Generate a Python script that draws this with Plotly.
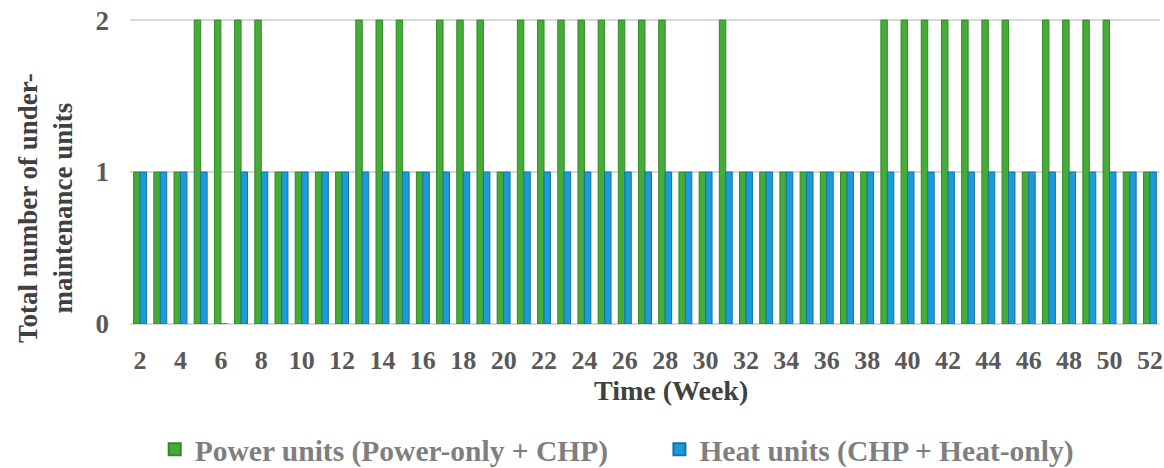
import plotly.graph_objects as go

weeks = list(range(2, 53))
power_units = [1, 1, 1, 2, 2, 2, 2, 1, 1, 1, 1, 2, 2, 2, 1, 2, 2, 2, 1, 2,
               2, 2, 2, 2, 2, 2, 2, 1, 1, 2, 1, 1, 1, 1, 1, 1, 1, 2, 2, 2,
               2, 2, 2, 2, 1, 2, 2, 2, 2, 1, 1]
heat_units = [1, 1, 1, 1, 0, 1, 1, 1, 1, 1, 1, 1, 1, 1, 1, 1, 1, 1, 1, 1,
              1, 1, 1, 1, 1, 1, 1, 1, 1, 1, 1, 1, 1, 1, 1, 1, 1, 1, 1, 1,
              1, 1, 1, 1, 1, 1, 1, 1, 1, 1, 1]
y_ticks = [0, 1, 2]

FONT = "Liberation Serif"
fig = go.Figure()
fig.add_trace(go.Bar(x=weeks, y=power_units, name="Power units (Power-only + CHP)",
                     legend="legend",
                     marker=dict(color="#45AC38", line=dict(color="#2F8A28", width=1))))
fig.add_trace(go.Bar(x=weeks, y=heat_units, name="Heat units (CHP + Heat-only)",
                     legend="legend2",
                     marker=dict(color="#1B9BD8", line=dict(color="#1474A3", width=1))))

legend_font = dict(family=FONT, size=29.5, color="#7F7F7F", weight="bold")
fig.update_layout(
    width=1164, height=468,
    margin=dict(l=130, r=4, t=14, b=144, autoexpand=False),
    paper_bgcolor="white", plot_bgcolor="white",
    barmode="group", bargap=0.36, bargroupgap=0,
    font=dict(family=FONT, size=26, color="#595959"),
    showlegend=True,
    legend=dict(orientation="h", x=0.024, xanchor="left", y=-0.405, yanchor="middle",
                font=legend_font, itemsizing="constant", bgcolor="rgba(0,0,0,0)"),
    legend2=dict(orientation="h", x=0.514, xanchor="left", y=-0.405, yanchor="middle",
                 font=legend_font, itemsizing="constant", bgcolor="rgba(0,0,0,0)"),
    xaxis=dict(range=[1.5, 52.5], tick0=2, dtick=2, showgrid=False, showline=False,
               zeroline=False, ticks="", ticklabelstandoff=18,
               tickfont=dict(family=FONT, size=26, color="#595959", weight="bold")),
    yaxis=dict(range=[0, 2.04], tickvals=y_ticks, showgrid=True, gridcolor="#D9D9D9",
               gridwidth=1.5, zeroline=True, zerolinecolor="#D9D9D9", zerolinewidth=1.5,
               ticks="", ticklabelstandoff=20,
               tickfont=dict(family=FONT, size=27, color="#595959", weight="bold")),
    annotations=[
        dict(text="Time (Week)", x=0.525, y=-0.216, xref="paper", yref="paper",
             xanchor="center", yanchor="middle", showarrow=False,
             font=dict(family=FONT, size=28, color="#404040", weight="bold")),
        dict(text="Total number of under-<br>maintenance units", x=-0.0825, y=0.374,
             xref="paper", yref="paper", xanchor="center", yanchor="middle",
             textangle=-90, showarrow=False,
             font=dict(family=FONT, size=27, color="#404040", weight="bold")),
    ],
)

fig.write_html("out.html")
